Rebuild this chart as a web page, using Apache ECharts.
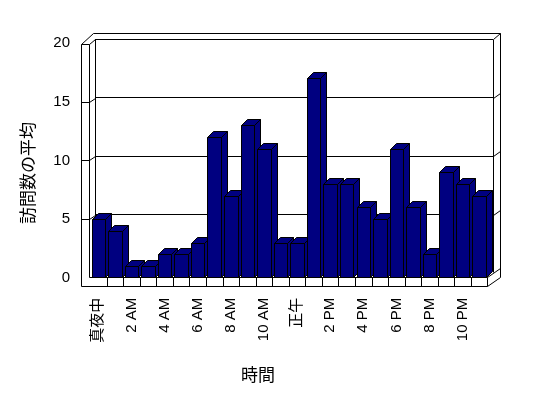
<!DOCTYPE html>
<html><head><meta charset="utf-8">
<script src="https://cdn.jsdelivr.net/npm/echarts@6/dist/echarts.min.js"></script>
<style>html,body{margin:0;padding:0;background:#fff}#c{width:548px;height:398px}</style>
</head><body><div id="c"></div>
<script>
// ---- data ----
const categories = ['真夜中','1 AM','2 AM','3 AM','4 AM','5 AM','6 AM','7 AM','8 AM','9 AM','10 AM','11 AM',
                    '正午','1 PM','2 PM','3 PM','4 PM','5 PM','6 PM','7 PM','8 PM','9 PM','10 PM','11 PM'];
const visits = [5,4,1,1,2,2,3,12,7,13,11,3,3,17,8,8,6,5,11,6,2,9,8,7];
const yTicks = [0,5,10,15,20];
const xTitle = '時間';
const yTitle = '訪問数の平均';

// ---- layout ----
const FRONT = {left:90, right:60.5, top:43, bottom:120.2};   // bar plane
const BACK  = {left:95, right:55,   top:39, bottom:125};     // back wall plane
const DEPTH = [6,-6];
const FONT = '"Liberation Sans","Noto Sans CJK JP",sans-serif';
const BAR_COLOR = '#000080';

const chart = echarts.init(document.getElementById('c'), null, {renderer:'canvas'});

function renderBar(params, api){
  const i = api.value(0), v = api.value(1);
  const base = api.coord([i, 0]);
  const top = api.coord([i, v]);
  const bw = api.size([1,0])[0];
  const w = bw * 0.815;
  const x0 = Math.round(base[0] - w/2) + 0.5;
  const x1 = Math.round(base[0] + w/2) + 0.5;
  const ty = Math.round(top[1]) + 0.5;
  const by = Math.round(base[1]) - 0.5;
  const dx = DEPTH[0], dy = DEPTH[1];
  const st = {fill: BAR_COLOR, stroke:'#000', lineWidth:1};
  return {type:'group', children:[
    {type:'polygon', shape:{points:[[x1,by],[x1+dx,by+dy],[x1+dx,ty+dy],[x1,ty]]}, style:st},
    {type:'polygon', shape:{points:[[x0,ty],[x0+dx,ty+dy],[x1+dx,ty+dy],[x1,ty]]}, style:st},
    {type:'rect', shape:{x:x0, y:ty, width:x1-x0, height:by-ty}, style:st}
  ]};
}

chart.setOption({
  animation:false,
  backgroundColor:'#fff',
  grid:[
    Object.assign({containLabel:false}, FRONT),
    Object.assign({containLabel:false}, BACK)
  ],
  xAxis:[
    {type:'category', gridIndex:0, data:categories, boundaryGap:true,
     axisLine:{show:false}, axisTick:{show:false},
     axisLabel:{rotate:90, interval:1, margin:20, color:'#000', fontSize:15, fontFamily:FONT}},
    {type:'category', gridIndex:1, data:categories, show:false}
  ],
  yAxis:[
    {type:'value', gridIndex:0, min:yTicks[0], max:yTicks[yTicks.length-1], interval:yTicks[1]-yTicks[0],
     offset:9, axisLine:{show:false}, axisTick:{show:false}, splitLine:{show:false},
     axisLabel:{margin:11, color:'#000', fontSize:15, fontFamily:FONT}},
    {type:'value', gridIndex:1, min:yTicks[0], max:yTicks[yTicks.length-1], interval:yTicks[1]-yTicks[0],
     axisLine:{show:false}, axisTick:{show:false}, axisLabel:{show:false},
     splitLine:{show:true, showMinLine:false, lineStyle:{color:'#000', width:1}}}
  ],
  series:[{
    type:'custom', xAxisIndex:0, yAxisIndex:0, clip:false, z:5,
    renderItem: renderBar,
    encode:{x:0, y:1},
    data: visits.map((v,i)=>[i,v])
  }]
});

// ---- 3D frame (walls, floor) ----
function L(pts, z){ return {type:'polyline', silent:true, z: z||1, shape:{points:pts}, style:{stroke:'#000', lineWidth:1, fill:null}}; }
const W = 548, H = 398;
const xF = 81.5, xW = 89.5, xB = BACK.left + 0.5, xBR = W - BACK.right + 0.5, xOR = xBR + 7;
const yOT = BACK.top - 5.5, yBT = BACK.top + 0.5, yWT = 44.5;
const yFT = Math.round(H - FRONT.bottom) - 0.5, yFB = yFT + 9;
const xFR = W - FRONT.right;
const g = [];
g.push(L([[xF,yFB],[xF,yWT],[xW,yWT],[xW,yFT]], 10));
g.push(L([[xF,yWT],[xF+12,yOT],[xOR,yOT],[xOR,yFT],[xFR,yFB],[xF,yFB]], 10));
g.push(L([[xW,yFT],[xFR,yFT],[xFR,yFB]], 10));
g.push(L([[xFR,yFT],[xOR,yFT-9]], 10));
g.push(L([[xB,yBT],[xB,yFT]]));
g.push(L([[xBR,yBT],[xBR,yFT-5]]));
g.push(L([[xBR,yBT],[xOR,yOT]]));
g.push(L([[xW,yWT],[xB,yBT]]));
yTicks.slice(1, yTicks.length-1).forEach(v=>{
  const by = Math.round(chart.convertToPixel({yAxisIndex:1}, v)) + 0.5;
  const fy = Math.round(chart.convertToPixel({yAxisIndex:0}, v)) + 0.5;
  g.push(L([[xF,fy],[xW,fy],[xB,by]]));
  g.push(L([[xBR,by],[xOR,by-5]]));
});
for (let k=1; k<categories.length; k++){
  const a = chart.convertToPixel({xAxisIndex:0}, k-1), b = chart.convertToPixel({xAxisIndex:0}, k);
  const x = Math.round((a+b)/2) + 0.5;
  g.push(L([[x,yFT],[x,yFB]], 10));
}
g.push({type:'text', silent:true, x:28, y:173, rotation:Math.PI/2,
  style:{text:yTitle, fill:'#000', font:'17px "Noto Sans CJK JP"', align:'center', verticalAlign:'middle'}});
g.push({type:'text', silent:true, x:258, y:375,
  style:{text:xTitle, fill:'#000', font:'17px "Noto Sans CJK JP"', align:'center', verticalAlign:'middle'}});
chart.setOption({graphic: g});
</script></body></html>
